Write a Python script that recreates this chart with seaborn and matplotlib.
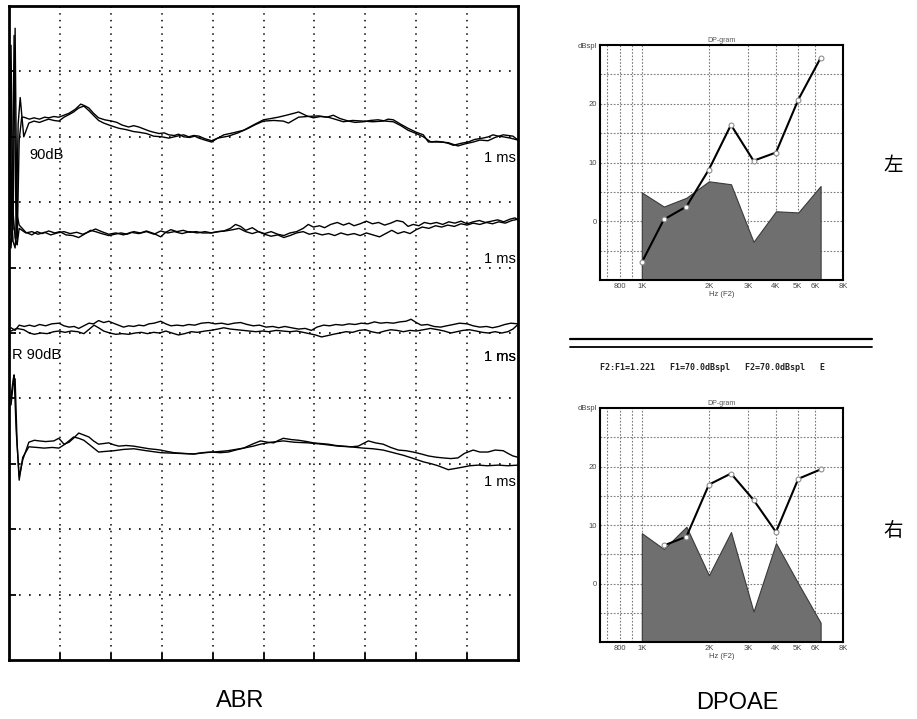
import matplotlib
matplotlib.use("Agg")
import matplotlib.pyplot as plt
from matplotlib.ticker import NullLocator
import seaborn as sns

sns.set_theme(style="white")
plt.rcParams["font.family"] = ["Liberation Sans", "Noto Sans CJK SC", "DejaVu Sans"]
plt.rcParams["text.color"] = "black"

# ---------------- ABR data (time in ms, amplitude in screen divisions) ----------------
abr1a_t = [0.00, 0.02, 0.04, 0.08, 0.12, 0.16, 0.20, 0.25, 0.29, 0.40, 0.49, 0.60, 0.70, 0.78, 0.88,
           0.98, 1.08, 1.18, 1.30, 1.41, 1.50, 1.57, 1.66, 1.76, 1.88, 2.02, 2.12, 2.22, 2.35, 2.45,
           2.55, 2.65, 2.75, 2.84, 2.95, 3.05, 3.14, 3.25, 3.33, 3.43, 3.55, 3.65, 3.73, 3.85, 3.98,
           4.08, 4.22, 4.40, 4.61, 4.80, 5.00, 5.15, 5.29, 5.45, 5.60, 5.69, 5.85, 5.98, 6.12, 6.27,
           6.40, 6.57, 6.75, 6.96, 7.15, 7.35, 7.45, 7.55, 7.70, 7.84, 8.00, 8.14, 8.24, 8.40, 8.53,
           8.63, 8.73, 8.88, 9.02, 9.15, 9.31, 9.42, 9.51, 9.61, 9.71, 9.85, 10.0]
abr1a_amp = [9.48, 6.50, 9.40, 6.58, 9.66, 6.35, 7.95, 8.30, 8.30, 8.27, 8.29, 8.27, 8.30, 8.29, 8.31,
             8.30, 8.33, 8.36, 8.42, 8.50, 8.47, 8.44, 8.36, 8.29, 8.26, 8.24, 8.22, 8.18, 8.15, 8.17,
             8.15, 8.12, 8.09, 8.07, 8.05, 8.06, 8.03, 8.02, 8.04, 8.00, 7.99, 8.01, 7.98, 7.95, 7.92,
             7.97, 8.03, 8.06, 8.10, 8.18, 8.26, 8.28, 8.30, 8.33, 8.36, 8.38, 8.32, 8.29, 8.31, 8.30,
             8.27, 8.23, 8.25, 8.24, 8.23, 8.24, 8.27, 8.26, 8.19, 8.13, 8.07, 8.03, 7.92, 7.93, 7.92,
             7.90, 7.87, 7.90, 7.92, 7.96, 7.98, 8.00, 8.03, 8.01, 8.00, 7.98, 7.95]
abr1b_t = [0.00, 0.02, 0.06, 0.10, 0.14, 0.18, 0.22, 0.29, 0.39, 0.49, 0.60, 0.70, 0.78, 0.88, 0.98,
           1.08, 1.18, 1.27, 1.37, 1.47, 1.57, 1.67, 1.76, 1.86, 2.00, 2.16, 2.30, 2.45, 2.55, 2.70,
           2.84, 3.00, 3.14, 3.30, 3.43, 3.53, 3.63, 3.73, 3.85, 3.98, 4.10, 4.31, 4.50, 4.70, 4.85,
           5.00, 5.20, 5.39, 5.49, 5.60, 5.69, 5.85, 6.08, 6.25, 6.37, 6.50, 6.67, 6.80, 6.96, 7.10,
           7.25, 7.40, 7.55, 7.70, 7.84, 8.00, 8.14, 8.29, 8.45, 8.63, 8.82, 8.95, 9.12, 9.25, 9.41,
           9.55, 9.71, 9.90, 10.0]
abr1b_amp = [7.30, 9.20, 6.40, 9.55, 6.45, 8.20, 8.60, 8.00, 8.21, 8.24, 8.22, 8.25, 8.27, 8.25, 8.24,
             8.30, 8.34, 8.38, 8.44, 8.47, 8.40, 8.32, 8.25, 8.21, 8.17, 8.13, 8.11, 8.08, 8.07, 8.05,
             8.01, 8.00, 7.98, 8.01, 8.03, 8.00, 8.02, 8.01, 7.97, 7.94, 7.98, 8.01, 8.06, 8.13, 8.19,
             8.24, 8.25, 8.24, 8.21, 8.26, 8.30, 8.31, 8.32, 8.30, 8.33, 8.28, 8.24, 8.22, 8.23, 8.25,
             8.26, 8.24, 8.23, 8.17, 8.10, 8.05, 8.00, 7.92, 7.92, 7.91, 7.86, 7.89, 7.92, 7.95, 7.94,
             7.99, 8.03, 8.01, 7.95]

abr2a_t = [0.00, 0.04, 0.08, 0.12, 0.16, 0.20, 0.33, 0.45, 0.55, 0.65, 0.78, 0.90, 1.00, 1.12, 1.25,
           1.37, 1.50, 1.60, 1.70, 1.82, 1.96, 2.08, 2.20, 2.32, 2.45, 2.58, 2.70, 2.85, 2.98, 3.08,
           3.18, 3.30, 3.42, 3.55, 3.68, 3.80, 3.96, 4.10, 4.22, 4.35, 4.45, 4.55, 4.65, 4.78, 4.90,
           5.02, 5.15, 5.28, 5.40, 5.52, 5.65, 5.78, 5.88, 5.98, 6.10, 6.20, 6.32, 6.45, 6.57, 6.68,
           6.78, 6.90, 7.02, 7.14, 7.26, 7.38, 7.50, 7.62, 7.74, 7.84, 7.94, 8.05, 8.16, 8.28, 8.40,
           8.52, 8.64, 8.76, 8.88, 9.00, 9.12, 9.24, 9.36, 9.48, 9.60, 9.72, 9.84, 9.94, 10.0]
abr2a_amp = [6.60, 6.95, 6.40, 6.30, 6.80, 6.65, 6.54, 6.50, 6.55, 6.52, 6.56, 6.53, 6.55, 6.50, 6.49,
             6.46, 6.52, 6.57, 6.55, 6.52, 6.49, 6.51, 6.53, 6.51, 6.55, 6.53, 6.56, 6.52, 6.47, 6.54,
             6.58, 6.55, 6.57, 6.54, 6.55, 6.53, 6.53, 6.55, 6.56, 6.60, 6.66, 6.63, 6.57, 6.61, 6.55,
             6.52, 6.55, 6.51, 6.49, 6.53, 6.55, 6.60, 6.66, 6.62, 6.64, 6.61, 6.66, 6.69, 6.65, 6.68,
             6.64, 6.67, 6.71, 6.67, 6.69, 6.65, 6.68, 6.72, 6.70, 6.63, 6.66, 6.64, 6.69, 6.67, 6.69,
             6.66, 6.70, 6.68, 6.71, 6.67, 6.70, 6.72, 6.69, 6.71, 6.73, 6.70, 6.74, 6.76, 6.73]
abr2b_t = [0.00, 0.04, 0.08, 0.12, 0.16, 0.20, 0.33, 0.45, 0.57, 0.70, 0.82, 0.95, 1.08, 1.20, 1.33,
           1.45, 1.58, 1.70, 1.82, 1.96, 2.10, 2.25, 2.40, 2.55, 2.70, 2.85, 2.98, 3.12, 3.25, 3.40,
           3.55, 3.70, 3.85, 3.98, 4.12, 4.25, 4.40, 4.52, 4.65, 4.78, 4.90, 5.02, 5.15, 5.28, 5.40,
           5.52, 5.65, 5.78, 5.90, 6.02, 6.15, 6.28, 6.40, 6.52, 6.65, 6.78, 6.90, 7.02, 7.15, 7.28,
           7.40, 7.52, 7.64, 7.76, 7.88, 8.00, 8.12, 8.25, 8.38, 8.50, 8.62, 8.75, 8.88, 9.00, 9.12,
           9.25, 9.38, 9.50, 9.62, 9.75, 9.88, 10.0]
abr2b_amp = [6.50, 6.30, 6.85, 6.45, 6.35, 6.60, 6.53, 6.55, 6.51, 6.54, 6.50, 6.53, 6.55, 6.52, 6.54,
             6.51, 6.55, 6.59, 6.55, 6.51, 6.53, 6.50, 6.54, 6.52, 6.55, 6.51, 6.56, 6.53, 6.55, 6.52,
             6.55, 6.53, 6.55, 6.53, 6.55, 6.56, 6.58, 6.60, 6.55, 6.52, 6.55, 6.51, 6.48, 6.50, 6.46,
             6.49, 6.53, 6.55, 6.51, 6.53, 6.50, 6.52, 6.49, 6.53, 6.50, 6.52, 6.49, 6.53, 6.50, 6.47,
             6.52, 6.57, 6.52, 6.55, 6.52, 6.58, 6.62, 6.60, 6.64, 6.62, 6.65, 6.63, 6.67, 6.65, 6.68,
             6.66, 6.69, 6.67, 6.70, 6.68, 6.72, 6.74]

abr3a_t = [0.04, 0.12, 0.20, 0.30, 0.40, 0.50, 0.60, 0.72, 0.84, 0.98, 1.08, 1.18, 1.28, 1.37, 1.47,
           1.57, 1.66, 1.76, 1.86, 1.96, 2.05, 2.15, 2.25, 2.35, 2.45, 2.55, 2.65, 2.75, 2.85, 2.98,
           3.08, 3.18, 3.30, 3.42, 3.53, 3.65, 3.78, 3.92, 4.05, 4.18, 4.30, 4.42, 4.55, 4.68, 4.80,
           4.92, 5.05, 5.18, 5.30, 5.42, 5.55, 5.69, 5.82, 5.94, 6.05, 6.18, 6.30, 6.42, 6.55, 6.68,
           6.80, 6.92, 7.05, 7.18, 7.30, 7.42, 7.55, 7.68, 7.80, 7.90, 8.00, 8.10, 8.22, 8.35, 8.48,
           8.60, 8.73, 8.85, 9.00, 9.12, 9.25, 9.38, 9.50, 9.62, 9.74, 9.86, 10.0]
abr3a_amp = [5.08, 5.04, 5.12, 5.10, 5.12, 5.10, 5.13, 5.11, 5.14, 5.15, 5.11, 5.09, 5.10, 5.07, 5.11,
             5.15, 5.14, 5.19, 5.16, 5.18, 5.15, 5.12, 5.09, 5.11, 5.10, 5.12, 5.11, 5.14, 5.15, 5.18,
             5.14, 5.11, 5.12, 5.11, 5.13, 5.12, 5.15, 5.16, 5.14, 5.15, 5.13, 5.15, 5.16, 5.13, 5.11,
             5.12, 5.09, 5.10, 5.08, 5.10, 5.08, 5.06, 5.07, 5.04, 5.09, 5.12, 5.11, 5.13, 5.12, 5.14,
             5.13, 5.15, 5.14, 5.17, 5.15, 5.16, 5.15, 5.17, 5.18, 5.21, 5.16, 5.12, 5.13, 5.10, 5.09,
             5.11, 5.13, 5.15, 5.14, 5.11, 5.09, 5.10, 5.08, 5.10, 5.13, 5.15, 5.14]
abr3b_t = [0.04, 0.15, 0.29, 0.40, 0.50, 0.62, 0.75, 0.88, 0.98, 1.10, 1.22, 1.35, 1.47, 1.58, 1.67,
           1.76, 1.86, 1.98, 2.10, 2.22, 2.35, 2.48, 2.60, 2.72, 2.84, 2.96, 3.08, 3.20, 3.33, 3.45,
           3.58, 3.70, 3.85, 3.96, 4.10, 4.22, 4.35, 4.48, 4.60, 4.72, 4.85, 4.98, 5.10, 5.25, 5.38,
           5.52, 5.65, 5.78, 5.90, 6.02, 6.14, 6.26, 6.37, 6.50, 6.62, 6.75, 6.88, 7.00, 7.12, 7.25,
           7.38, 7.50, 7.62, 7.75, 7.88, 8.00, 8.14, 8.28, 8.43, 8.55, 8.68, 8.80, 8.92, 9.05, 9.18,
           9.30, 9.42, 9.55, 9.68, 9.80, 9.90, 10.0]
abr3b_amp = [5.03, 5.07, 5.05, 5.00, 4.98, 5.00, 4.99, 5.02, 5.03, 5.01, 5.03, 5.02, 4.99, 5.06, 5.12,
             5.08, 5.03, 5.00, 4.98, 4.99, 4.98, 5.00, 5.01, 4.99, 5.01, 5.00, 5.03, 5.00, 4.97, 4.99,
             5.02, 5.01, 5.03, 5.04, 5.06, 5.08, 5.06, 5.05, 5.04, 5.03, 5.02, 5.03, 5.02, 5.04, 5.03,
             5.02, 5.03, 5.01, 4.99, 4.97, 4.94, 4.96, 4.98, 5.00, 5.02, 5.01, 5.04, 5.05, 5.02, 5.00,
             5.03, 5.05, 5.04, 5.02, 5.04, 5.03, 5.05, 5.07, 5.05, 5.03, 5.00, 5.02, 5.04, 5.05, 5.03,
             5.01, 5.00, 5.02, 5.00, 5.02, 5.06, 5.13]

abr4a_t = [0.04, 0.08, 0.10, 0.14, 0.20, 0.27, 0.39, 0.50, 0.59, 0.72, 0.88, 0.98, 1.08, 1.18, 1.28,
           1.37, 1.47, 1.57, 1.66, 1.76, 1.86, 1.96, 2.06, 2.16, 2.30, 2.45, 2.60, 2.75, 2.88, 2.98,
           3.10, 3.24, 3.40, 3.63, 3.80, 3.96, 4.15, 4.31, 4.45, 4.61, 4.78, 4.94, 5.08, 5.20, 5.30,
           5.39, 5.55, 5.69, 5.85, 5.98, 6.12, 6.27, 6.42, 6.57, 6.72, 6.86, 6.96, 7.06, 7.20, 7.35,
           7.50, 7.65, 7.80, 7.94, 8.10, 8.24, 8.40, 8.53, 8.68, 8.82, 8.95, 9.12, 9.25, 9.41, 9.55,
           9.71, 9.80, 9.90, 10.0]
abr4a_amp = [4.02, 4.28, 4.36, 3.52, 2.80, 3.06, 3.33, 3.36, 3.35, 3.34, 3.35, 3.39, 3.30, 3.33, 3.40,
             3.47, 3.44, 3.41, 3.35, 3.30, 3.31, 3.32, 3.29, 3.27, 3.28, 3.27, 3.25, 3.23, 3.22, 3.21,
             3.19, 3.17, 3.16, 3.15, 3.17, 3.18, 3.17, 3.18, 3.21, 3.24, 3.30, 3.35, 3.33, 3.32, 3.36,
             3.39, 3.37, 3.36, 3.34, 3.32, 3.31, 3.30, 3.28, 3.27, 3.26, 3.27, 3.31, 3.35, 3.32, 3.30,
             3.25, 3.21, 3.20, 3.18, 3.15, 3.12, 3.10, 3.09, 3.08, 3.09, 3.16, 3.21, 3.18, 3.18, 3.21,
             3.20, 3.16, 3.12, 3.10]
abr4b_t = [0.04, 0.08, 0.12, 0.16, 0.20, 0.27, 0.39, 0.55, 0.69, 0.85, 0.98, 1.10, 1.27, 1.37, 1.47,
           1.60, 1.76, 1.90, 2.06, 2.25, 2.45, 2.70, 2.98, 3.30, 3.63, 3.85, 4.02, 4.30, 4.61, 4.80,
           4.94, 5.15, 5.39, 5.60, 5.88, 6.15, 6.47, 6.70, 6.96, 7.15, 7.35, 7.55, 7.75, 7.95, 8.14,
           8.30, 8.43, 8.63, 8.78, 8.92, 9.05, 9.22, 9.40, 9.61, 9.80, 10.0]
abr4b_amp = [3.90, 4.20, 4.30, 3.30, 2.75, 3.10, 3.26, 3.25, 3.24, 3.25, 3.24, 3.30, 3.41, 3.39, 3.36,
             3.28, 3.18, 3.19, 3.20, 3.22, 3.23, 3.20, 3.17, 3.16, 3.15, 3.17, 3.18, 3.20, 3.24, 3.27,
             3.30, 3.33, 3.35, 3.33, 3.32, 3.30, 3.27, 3.26, 3.24, 3.23, 3.21, 3.17, 3.13, 3.08, 3.03,
             3.00, 2.97, 2.91, 2.93, 2.95, 2.97, 2.98, 2.97, 2.98, 2.97, 2.98]

abr_labels = ["90dB", "R 90dB"]
scale_label = "1 ms"

# ---------------- DPOAE data ----------------
dp_freqs = [1001, 1257, 1587, 2002, 2515, 3174, 4004, 5042, 6348]
left_noise = [4.9, 2.5, 4.0, 6.8, 6.3, -3.5, 1.7, 1.5, 6.0]
left_dp = [-7.0, 0.3, 2.5, 8.8, 16.4, 10.3, 11.7, 20.7, 27.8]
right_noise = [8.6, 5.9, 9.7, 1.4, 8.8, -4.8, 6.9, 0.0, -6.7]
right_dp = [float("nan"), 6.5, 8.0, 16.9, 18.8, 14.3, 8.8, 17.9, 19.5]
dp_xticks = [800, 1000, 2000, 3000, 4000, 5000, 6000, 8000]
dp_xticklabels = ["800", "1K", "2K", "3K", "4K", "5K", "6K", "8K"]
dp_xgrid = [700, 800, 900, 1000, 2000, 3000, 4000, 5000, 6000, 8000]
dp_yticks = [0, 10, 20, 30]
dp_yticklabels = ["0", "10", "20", "dBspl"]
dp_ygrid = [-5, 0, 5, 10, 15, 20, 25]
param_text = "F2:F1=1.221   F1=70.0dBspl   F2=70.0dBspl   E"

W, H = 917, 719
fig = plt.figure(figsize=(W / 100, H / 100), dpi=100)
fig.patch.set_facecolor("white")

# ---------------- ABR panel ----------------
ax = fig.add_axes([9 / W, 59 / H, 509 / W, 654 / H])
ax.set_xlim(0, 10)
ax.set_ylim(0, 10)
for i in range(1, 10):
    ax.axvline(i, color="black", lw=1.1, ls=(0, (1, 3.4)), zorder=1)
    ax.axhline(i, color="black", lw=1.2, ls=(0, (1, 5)), zorder=1)
pairs = [(abr1a_t, abr1a_amp), (abr1b_t, abr1b_amp), (abr2a_t, abr2a_amp), (abr2b_t, abr2b_amp),
         (abr3a_t, abr3a_amp), (abr3b_t, abr3b_amp), (abr4a_t, abr4a_amp), (abr4b_t, abr4b_amp)]
for tt, aa in pairs:
    sns.lineplot(x=tt, y=aa, ax=ax, color="black", linewidth=1.0, estimator=None, sort=False,
                 legend=False, zorder=3)
ax.set_xticks(range(1, 10))
ax.set_yticks(range(1, 10))
ax.tick_params(direction="in", length=5, width=1.3, colors="black", bottom=True, left=True,
               labelbottom=False, labelleft=False)
ax.set_xlabel("")
ax.set_ylabel("")
for s in ax.spines.values():
    s.set_color("black")
    s.set_linewidth(2)
tkw = dict(fontsize=10.5, color="black", va="center", zorder=4)
ax.text(0.41, 7.72, abr_labels[0], ha="left", **tkw)
ax.text(0.06, 4.66, abr_labels[1], ha="left", **tkw)
for yy in [7.68, 6.13, 4.63, 2.72]:
    ax.text(9.96, yy, scale_label, ha="right", **tkw)
ax.text(9.95, 4.64, scale_label, ha="right", **tkw)

# ---------------- DPOAE panels ----------------
def dp_panel(rect, noise, dp):
    a = fig.add_axes(rect)
    a.set_xscale("log")
    a.set_xlim(650, 8000)
    a.set_ylim(-10, 30)
    for g in dp_xgrid:
        a.axvline(g, color="#7a7a7a", lw=0.8, ls=(0, (1.5, 1.5)), zorder=1)
    for g in dp_ygrid:
        a.axhline(g, color="#7a7a7a", lw=0.8, ls=(0, (1.5, 1.5)), zorder=1)
    a.fill_between(dp_freqs, noise, -10, facecolor="#6f6f6f", edgecolor="#3a3a3a", lw=0.8, zorder=2)
    sns.lineplot(x=dp_freqs, y=dp, ax=a, color="black", linewidth=1.5, marker="o", markersize=3.5,
                 markerfacecolor="white", markeredgecolor="#888888", estimator=None, sort=False,
                 legend=False, zorder=3)
    a.xaxis.set_minor_locator(NullLocator())
    a.set_xticks(dp_xticks)
    a.set_xticklabels(dp_xticklabels)
    a.set_yticks(dp_yticks)
    a.set_yticklabels(dp_yticklabels)
    a.tick_params(length=0, pad=2, labelsize=5.5, labelcolor="#444444")
    a.set_xlabel("Hz (F2)", fontsize=5.5, color="#444444", labelpad=1)
    a.set_ylabel("")
    a.set_title("DP-gram", fontsize=5, color="#555555", pad=2)
    for s in a.spines.values():
        s.set_color("black")
        s.set_linewidth(1.5)
    return a

dp_panel([600 / W, (H - 280) / H, 243 / W, 235 / H], left_noise, left_dp)
dp_panel([600 / W, (H - 642) / H, 243 / W, 234 / H], right_noise, right_dp)

# separator lines and parameter text
fig.add_artist(plt.Line2D([570 / W, 872 / W], [1 - 339 / H, 1 - 339 / H], color="black", lw=1.6))
fig.add_artist(plt.Line2D([570 / W, 872 / W], [1 - 347 / H, 1 - 347 / H], color="black", lw=1.3))
fig.text(600 / W, 1 - 367 / H, param_text, fontsize=6, family="DejaVu Sans Mono", weight="bold",
         color="#222222", ha="left", va="center")

# side labels
fig.text(893 / W, 1 - 165 / H, "左", fontsize=14, family=["Noto Sans CJK JP", "DejaVu Sans"],
         color="black", ha="center", va="center")
fig.text(893 / W, 1 - 530 / H, "右", fontsize=14, family=["Noto Sans CJK JP", "DejaVu Sans"],
         color="black", ha="center", va="center")

# captions
fig.text(240 / W, 1 - 701 / H, "ABR", fontsize=17, color="black", ha="center", va="center")
fig.text(737 / W, 1 - 703 / H, "DPOAE", fontsize=17, color="black", ha="center", va="center")

fig.savefig("out.png", dpi=100, facecolor="white")
